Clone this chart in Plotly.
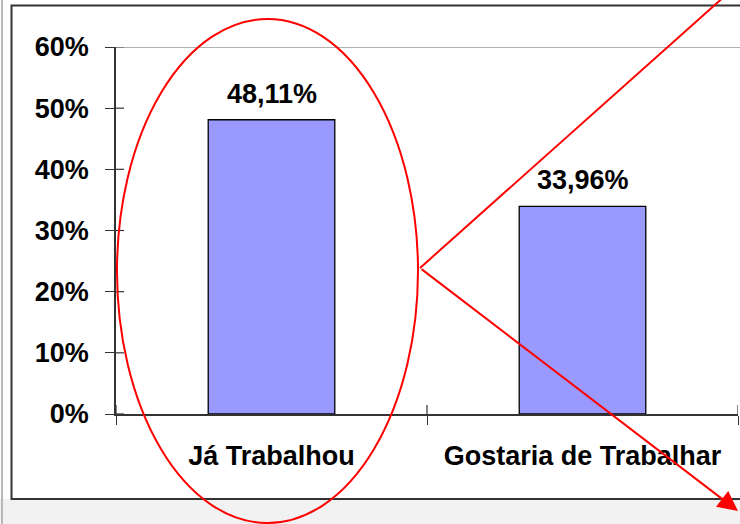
import plotly.graph_objects as go

categories = ["Já Trabalhou", "Gostaria de Trabalhar"]
values = [0.4811, 0.3396]
value_labels = ["48,11%", "33,96%"]
y_ticks = [0, 0.1, 0.2, 0.3, 0.4, 0.5, 0.6]
y_tick_labels = ["0%", "10%", "20%", "30%", "40%", "50%", "60%"]

W, H = 740, 524
L, R, T, B = 116, 2, 47, 110
PW, PH = W - L - R, H - T - B


def px(x):
    return (x - L) / PW


def py(y):
    return (H - B - y) / PH


FONT = "Liberation Sans, Arial, sans-serif"
FS = 27

fig = go.Figure()
fig.add_trace(go.Bar(
    x=categories, y=values, width=0.407,
    marker=dict(color="#9999FF", line=dict(color="#000000", width=1.3)),
    hoverinfo="skip",
))

shapes = []
# background grey strip below the frame
shapes.append(dict(type="rect", xref="paper", yref="paper", x0=px(-5), x1=px(750),
                   y0=py(499), y1=py(530), fillcolor="#f2f2f2", line=dict(width=0), layer="below"))
# outer left grey line
shapes.append(dict(type="line", xref="paper", yref="paper", x0=px(2), x1=px(2),
                   y0=py(-2), y1=py(530), line=dict(color="#b8b8b8", width=2), layer="below"))
# frame
shapes.append(dict(type="rect", xref="paper", yref="paper", x0=px(11.5), x1=px(760),
                   y0=py(499), y1=py(5.5), line=dict(color="#333333", width=2), layer="below"))
# top gridline
shapes.append(dict(type="line", xref="paper", yref="y", x0=px(124), x1=px(745),
                   y0=y_ticks[-1], y1=y_ticks[-1], line=dict(color="#999999", width=1.5), layer="below"))
# inside parts of crossing y ticks
for t in y_ticks:
    shapes.append(dict(type="line", xref="paper", yref="y", x0=0, x1=px(124),
                       y0=t, y1=t, line=dict(color="#333333", width=1.2)))
# inside parts of crossing x ticks
for b in [-0.5, 0.5, 1.5]:
    shapes.append(dict(type="line", xref="x", yref="paper", x0=b, x1=b,
                       y0=0, y1=py(405), line=dict(color="#333333", width=1.2)))
# red ellipse
shapes.append(dict(type="circle", xref="paper", yref="paper", x0=px(117), x1=px(418),
                   y0=py(523), y1=py(19), line=dict(color="#FF0000", width=2), layer="above"))
# red line to top-right
shapes.append(dict(type="line", xref="paper", yref="paper", x0=px(420), y0=py(268),
                   x1=px(726), y1=py(-5), line=dict(color="#FF0000", width=2), layer="above"))

annotations = []
for c, v, lab in zip(categories, values, value_labels):
    annotations.append(dict(x=c, y=v, xref="x", yref="y", text=lab, showarrow=False,
                            yanchor="bottom", yshift=9,
                            font=dict(family=FONT, size=FS, color="#000000", weight="bold")))
# red arrow
annotations.append(dict(x=px(738), y=py(511), xref="paper", yref="paper", text="",
                        showarrow=True, ax=420 - 738, ay=268 - 511, axref="pixel", ayref="pixel",
                        arrowcolor="#FF0000", arrowwidth=2, arrowhead=2, arrowsize=2))

fig.update_layout(
    width=W, height=H,
    margin=dict(l=L, r=R, t=T, b=B, pad=0),
    paper_bgcolor="#ffffff", plot_bgcolor="#ffffff",
    showlegend=False,
    shapes=shapes, annotations=annotations,
    font=dict(family=FONT, size=FS, color="#000000"),
)
fig.update_yaxes(
    range=[0, 0.6], tickvals=y_ticks, ticktext=y_tick_labels,
    showgrid=False, zeroline=False,
    showline=True, linecolor="#333333", linewidth=1.5,
    ticks="outside", ticklen=9, tickcolor="#333333", tickwidth=1.2,
    ticklabelstandoff=11,
    tickfont=dict(family=FONT, size=FS, color="#000000", weight="bold"),
)
fig.update_xaxes(
    range=[-0.5, 1.5], showgrid=False, zeroline=False,
    showline=True, linecolor="#333333", linewidth=1.5,
    ticks="outside", ticklen=9, tickcolor="#333333", tickwidth=1.2,
    tickson="boundaries", ticklabelstandoff=17,
    tickfont=dict(family=FONT, size=FS, color="#000000", weight="bold"),
)

fig.write_html("out.html", config={"displayModeBar": False},
               post_script="document.body.style.margin='0';document.body.style.overflow='hidden';")
